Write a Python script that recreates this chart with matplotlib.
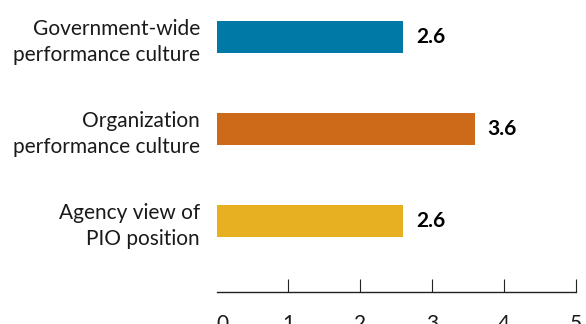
import matplotlib.pyplot as plt

# Data
categories = [
    "Government-wide\nperformance culture",
    "Organization\nperformance culture",
    "Agency view of\nPIO position",
]
values = [2.6, 3.6, 2.6]
tick_values = [0, 1, 2, 3, 4, 5]
tick_labels = ["0", "1", "2", "3", "4", "5"]

# Style
bar_colors = ["#0079a6", "#cc6a1a", "#e6b022"]
text_color = "#1a1a1a"
plt.rcParams["font.family"] = ["Lato", "DejaVu Sans"]

fig = plt.figure(figsize=(5.86, 3.24), dpi=100)
ax = fig.add_axes([216.5 / 586, 1 - 291.7 / 324, 359.2 / 586, 291.7 / 324])

positions = list(range(len(categories)))
ax.barh(positions, values, height=0.345, color=bar_colors, zorder=2)

# value labels just right of each bar
for pos, val in zip(positions, values):
    ax.annotate(
        f"{val:.1f}",
        xy=(val, pos),
        xytext=(9, 0),
        textcoords="offset points",
        ha="left",
        va="center",
        fontsize=15,
        fontweight="bold",
        color="black",
    )

ax.set_xlim(0, 5)
ax.set_ylim(2.768, -0.402)

ax.set_yticks(positions)
ax.set_yticklabels(categories, fontsize=15, color=text_color, linespacing=1.35)
ax.tick_params(axis="y", length=0, pad=12)

ax.set_xticks(tick_values)
ax.set_xticklabels(tick_labels, fontsize=15, color=text_color)
ax.tick_params(axis="x", direction="in", length=9.4, width=0.8, pad=16, color="#222222")
ax.xaxis.get_major_ticks()[0].tick1line.set_visible(False)
ax.get_xticklabels()[0].set_horizontalalignment("left")

for side in ["top", "right", "left"]:
    ax.spines[side].set_visible(False)
ax.spines["bottom"].set_linewidth(1.0)
ax.spines["bottom"].set_color("#222222")

fig.savefig("out.png", dpi=100)
